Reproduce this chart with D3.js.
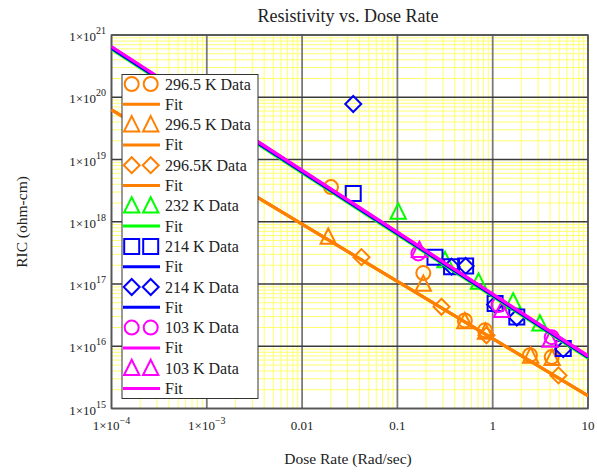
<!DOCTYPE html>
<html>
<head>
<meta charset="utf-8">
<script src="https://cdn.jsdelivr.net/npm/d3@7"></script>
<style>
  body { margin: 0; background: #fff; }
  text { font-family: "Liberation Serif", "Times New Roman", serif; fill: #222; }
</style>
</head>
<body>
<div id="chart"></div>
<script>
// axis domains
const xDomain = [1e-4, 10];
const yDomain = [1e15, 1e21];
const xTicks = [1e-4, 1e-3, 0.01, 0.1, 1, 10];
const xTickLabels = ["1×10|−4", "1×10|−3", "0.01", "0.1", "1", "10"];
const yTicks = [1e15, 1e16, 1e17, 1e18, 1e19, 1e20, 1e21];

// 296.5 K circles
const dose296c = [0.0201, 0.187, 0.51, 0.83, 2.46, 4.16];
const ric296c = [3.6e18, 1.5e17, 2.6e16, 1.8e16, 7.2e15, 6.7e15];
// 296.5 K triangles
const dose296t = [0.0188, 0.187, 0.51, 0.84, 2.5, 4.2];
const ric296t = [5.7e17, 1.0e17, 2.5e16, 1.7e16, 7.0e15, 6.4e15];
// 296.5K diamonds
const dose296d = [0.042, 0.29, 0.86, 4.9];
const ric296d = [2.7e17, 4.3e16, 1.5e16, 3.4e15];
// 232 K triangles
const dose232 = [0.102, 0.316, 0.71, 1.64, 3.13];
const ric232 = [1.44e18, 2.4e17, 1.08e17, 5.2e16, 2.3e16];
// 214 K squares
const dose214s = [0.0344, 0.248, 0.37, 0.52, 1.06, 1.79, 5.5];
const ric214s = [2.85e18, 2.7e17, 1.9e17, 1.95e17, 4.85e16, 2.96e16, 9.2e15];
// 214 K diamonds
const dose214d = [0.0344, 0.37, 0.52, 1.06, 1.79, 5.5];
const ric214d = [7.8e19, 1.9e17, 1.95e17, 4.7e16, 2.9e16, 9.0e15];
// 103 K circles
const dose103c = [0.166, 1.15, 4.16];
const ric103c = [3.1e17, 4.6e16, 1.4e16];
// 103 K triangles
const dose103t = [0.17, 1.24, 4.0];
const ric103t = [3.5e17, 3.8e16, 1.26e16];

// fit lines: value at x=1e-4 and at x=10
const fit296 = [6.3e19, 1.6e15];
const fit232 = [5.9e20, 6.4e15];
const fit214 = [6.2e20, 6.7e15];
const fit103 = [6.5e20, 7.0e15];

const orange = "#ff8000", green = "#00ff00", blue = "#0000ff", magenta = "#ff00ff";

const series = [
  {name: "296.5 K Data", color: orange, shape: "circle", x: dose296c, y: ric296c, fit: fit296},
  {name: "296.5 K Data", color: orange, shape: "triangle", x: dose296t, y: ric296t, fit: fit296},
  {name: "296.5K Data", color: orange, shape: "diamond", x: dose296d, y: ric296d, fit: fit296},
  {name: "232 K Data", color: green, shape: "triangle", x: dose232, y: ric232, fit: fit232},
  {name: "214 K Data", color: blue, shape: "square", x: dose214s, y: ric214s, fit: fit214},
  {name: "214 K Data", color: blue, shape: "diamond", x: dose214d, y: ric214d, fit: fit214},
  {name: "103 K Data", color: magenta, shape: "circle", x: dose103c, y: ric103c, fit: fit103},
  {name: "103 K Data", color: magenta, shape: "triangle", x: dose103t, y: ric103t, fit: fit103}
];

const W = 597, H = 472;
const pLeft = 111.5, pRight = 588, pTop = 35, pBottom = 408.5;

const svg = d3.select("#chart").append("svg").attr("width", W).attr("height", H);

const x = d3.scaleLog().domain(xDomain).range([pLeft, pRight]);
const y = d3.scaleLog().domain(yDomain).range([pBottom, pTop]);

// minor grid
const minorX = [], minorY = [];
for (let e = -4; e < 1; e++) for (let m = 2; m <= 9; m++) minorX.push(m * Math.pow(10, e));
for (let e = 15; e < 21; e++) for (let m = 2; m <= 9; m++) minorY.push(m * Math.pow(10, e));

const grid = svg.append("g");
grid.selectAll(".mx").data(minorX).enter().append("line")
  .attr("x1", d => x(d)).attr("x2", d => x(d)).attr("y1", pTop).attr("y2", pBottom)
  .attr("stroke", "#ffff70").attr("stroke-width", 1);
grid.selectAll(".my").data(minorY).enter().append("line")
  .attr("y1", d => y(d)).attr("y2", d => y(d)).attr("x1", pLeft).attr("x2", pRight)
  .attr("stroke", "#ffff70").attr("stroke-width", 1);
grid.selectAll(".Mx").data(xTicks).enter().append("line")
  .attr("x1", d => x(d)).attr("x2", d => x(d)).attr("y1", pTop).attr("y2", pBottom)
  .attr("stroke", "#7a7a7a").attr("stroke-width", 1.8);
grid.selectAll(".My").data(yTicks).enter().append("line")
  .attr("y1", d => y(d)).attr("y2", d => y(d)).attr("x1", pLeft).attr("x2", pRight)
  .attr("stroke", "#3a3a3a").attr("stroke-width", 1.4);

svg.append("rect").attr("x", pLeft).attr("y", pTop)
  .attr("width", pRight - pLeft).attr("height", pBottom - pTop)
  .attr("fill", "none").attr("stroke", "#555").attr("stroke-width", 1.5);

svg.append("clipPath").attr("id", "clip").append("rect")
  .attr("x", pLeft).attr("y", pTop).attr("width", pRight - pLeft).attr("height", pBottom - pTop);

const plot = svg.append("g").attr("clip-path", "url(#clip)");

function shape(type, r) {
  const p = d3.path();
  if (type === "circle") {
    p.moveTo(r, 0); p.arc(0, 0, r, 0, 2 * Math.PI);
  } else if (type === "square") {
    p.rect(-r, -r, 2 * r, 2 * r);
  } else if (type === "triangle") {
    p.moveTo(0, -r); p.lineTo(r * 0.9, r * 0.8); p.lineTo(-r * 0.9, r * 0.8); p.closePath();
  } else {
    p.moveTo(0, -r); p.lineTo(r, 0); p.lineTo(0, r); p.lineTo(-r, 0); p.closePath();
  }
  return p.toString();
}
const sizes = {circle: 7, square: 7.5, triangle: 8.5, diamond: 8};

// markers
series.forEach(s => {
  const pts = s.x.map((d, i) => [d, s.y[i]]);
  plot.append("g").selectAll("path").data(pts).enter().append("path")
    .attr("transform", d => `translate(${x(d[0])},${y(d[1])})`)
    .attr("d", shape(s.shape, sizes[s.shape]))
    .attr("fill", "none").attr("stroke", s.color).attr("stroke-width", 2);
});

// fit lines
const line = d3.line().x(d => x(d[0])).y(d => y(d[1]));
series.forEach(s => {
  plot.append("path")
    .attr("d", line([[xDomain[0], s.fit[0]], [xDomain[1], s.fit[1]]]))
    .attr("fill", "none").attr("stroke", s.color).attr("stroke-width", 3);
});

// y tick labels
yTicks.forEach(t => {
  const e = Math.round(Math.log10(t));
  const tx = svg.append("text").attr("x", 106).attr("y", y(t) + 6)
    .attr("text-anchor", "end").style("font-size", "13px");
  tx.append("tspan").text("1×10");
  tx.append("tspan").attr("dy", -7).style("font-size", "10px").text(e);
});

// x tick labels
xTicks.forEach((t, i) => {
  const parts = xTickLabels[i].split("|");
  const tx = svg.append("text").attr("x", x(t)).attr("y", 430)
    .attr("text-anchor", "middle").style("font-size", "13px");
  tx.append("tspan").text(parts[0]);
  if (parts[1]) tx.append("tspan").attr("dy", -6).style("font-size", "10px").text(parts[1]);
});

// titles
svg.append("text").attr("x", 348).attr("y", 22).attr("text-anchor", "middle")
  .style("font-size", "18px").text("Resistivity vs. Dose Rate");
svg.append("text").attr("x", 348).attr("y", 464).attr("text-anchor", "middle")
  .style("font-size", "15.5px").text("Dose Rate (Rad/sec)");
svg.append("text").attr("transform", "translate(27,222) rotate(-90)").attr("text-anchor", "middle")
  .style("font-size", "15.5px").text("RIC (ohm-cm)");

// legend
const leg = svg.append("g");
leg.append("rect").attr("x", 122).attr("y", 74.5).attr("width", 136).attr("height", 324)
  .attr("fill", "#fff").attr("stroke", "#333").attr("stroke-width", 1);
const rowH = 20.3, row0 = 84;
series.forEach((s, i) => {
  const cy = row0 + 2 * i * rowH;
  [131.7, 150.7].forEach(cx => {
    leg.append("path").attr("transform", `translate(${cx},${cy})`)
      .attr("d", shape(s.shape, sizes[s.shape]))
      .attr("fill", "none").attr("stroke", s.color).attr("stroke-width", 2);
  });
  leg.append("text").attr("x", 165).attr("y", cy + 5.5).style("font-size", "16px").text(s.name);
  const ly = cy + rowH;
  leg.append("line").attr("x1", 123).attr("x2", 160).attr("y1", ly).attr("y2", ly)
    .attr("stroke", s.color).attr("stroke-width", 3);
  leg.append("text").attr("x", 165).attr("y", ly + 5.5).style("font-size", "16px").text("Fit");
});
</script>
</body>
</html>
